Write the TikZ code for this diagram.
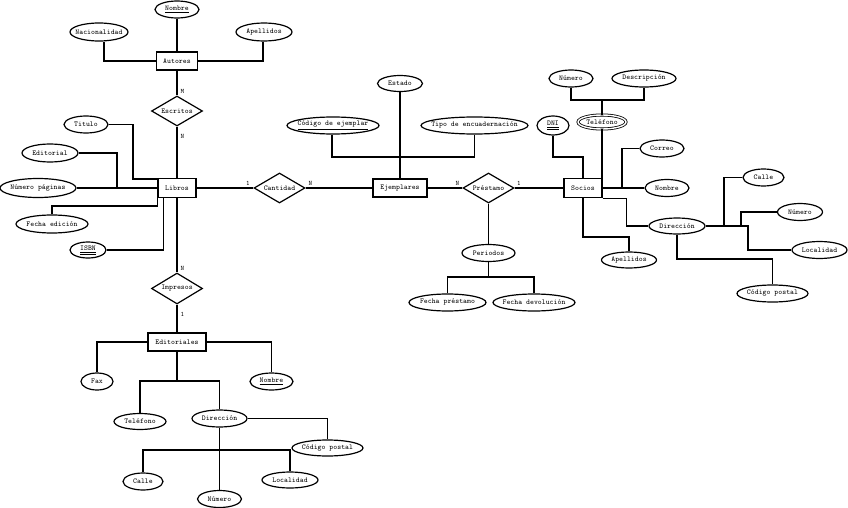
\documentclass[tikz,border=0pt]{standalone}
\usepackage{fontspec}
\usetikzlibrary{shapes.geometric}
\newcommand{\zt}[1]{\makebox[0pt]{#1}}
\begin{document}
\begin{tikzpicture}[x=1pt,y=-1pt,line width=1.2pt,
  every node/.style={font=\ttfamily\fontsize{7.4}{8}\selectfont},
  attr/.style 2 args={draw,ellipse,inner sep=0pt,minimum width=#1,minimum height=#2},
  ent/.style 2 args={draw,rectangle,inner sep=0pt,minimum width=#1,minimum height=#2},
  rel/.style 2 args={draw,diamond,inner sep=0pt,minimum width=#1,minimum height=#2},
  card/.style={font=\ttfamily\fontsize{6.8}{7}\selectfont,inner sep=0pt},
  multi/.style={double,double distance=1.4pt,line width=0.8pt}]
\useasboundingbox[fill=white] (0,0) rectangle (848,508);

% ---- Autores ----
\node[attr={44}{17}] (aNom) at (177,9.5) {\zt{\underline{Nombre}}};
\node[attr={58}{18}] (aNac) at (99,32) {\zt{Nacionalidad}};
\node[attr={56}{18}] (aApe) at (264,32) {\zt{Apellidos}};
\node[ent={41}{18}] (autores) at (177,61) {Autores};
\node[rel={51}{30}] (escritos) at (177,111) {\zt{Escritos}};

% ---- Libros ----
\node[ent={38}{19}] (libros) at (177,188) {Libros};
\node[attr={44}{17}] (lTit) at (86,124.5) {\zt{Titulo}};
\node[attr={56}{18}] (lEdi) at (50,153) {\zt{Editorial}};
\node[attr={76}{19}] (lPag) at (38,188) {\zt{Número páginas}};
\node[attr={72}{18}] (lFec) at (52,224) {\zt{Fecha edición}};
\node[attr={36}{16}] (lIsbn) at (88,250) {\zt{\underline{\underline{ISBN}}}};
\node[rel={51}{30}] (cantidad) at (279.5,188) {\zt{Cantidad}};
\node[rel={51}{31}] (impresos) at (177,288.5) {\zt{Impresos}};

% ---- Ejemplares ----
\node[ent={54}{18}] (ejemplares) at (400,188) {Ejemplares};
\node[attr={45}{16}] (eEst) at (400,83.5) {\zt{Estado}};
\node[attr={92}{17}] (eCod) at (333,125.5) {\zt{\underline{Código de ejemplar}}};
\node[attr={107}{17}] (eTip) at (474.5,125.5) {\zt{Tipo de encuadernación}};

% ---- Prestamo ----
\node[rel={51}{30}] (prestamo) at (488.5,188) {\zt{Préstamo}};
\node[attr={53}{17}] (pPer) at (488.5,253) {\zt{Periodos}};
\node[attr={77}{17}] (pFp) at (447.5,302.5) {\zt{Fecha préstamo}};
\node[attr={82}{17}] (pFd) at (534,302.5) {\zt{Fecha devolución}};

% ---- Socios ----
\node[ent={38}{19}] (socios) at (583,188) {Socios};
\node[attr={44}{17}] (sNum) at (571,78.5) {\zt{Número}};
\node[attr={64}{17}] (sDes) at (644,78.5) {\zt{Descripción}};
\node[attr={48}{14},multi] (sTel) at (602,122) {\zt{Teléfono}};
\node[attr={32}{19}] (sDni) at (553,125.5) {\zt{\underline{\underline{DNI}}}};
\node[attr={44}{17}] (sCor) at (662,148.5) {\zt{Correo}};
\node[attr={44}{17}] (sNom) at (667,188) {\zt{Nombre}};
\node[attr={56}{16}] (sDir) at (677,226) {\zt{Dirección}};
\node[attr={55}{16}] (sApe) at (629,260) {\zt{Apellidos}};
\node[attr={41}{17}] (sCal) at (763.5,177.5) {\zt{Calle}};
\node[attr={45}{17}] (sNu2) at (800,212) {\zt{Número}};
\node[attr={55}{17}] (sLoc) at (819.5,250) {\zt{Localidad}};
\node[attr={71}{17}] (sCp) at (772.5,293.5) {\zt{Código postal}};

% ---- Editoriales ----
\node[ent={58}{18}] (editoriales) at (177,342) {Editoriales};
\node[attr={32}{17}] (dFax) at (97,381.5) {\zt{Fax}};
\node[attr={43}{17}] (dNom) at (271.5,381.5) {\zt{\underline{Nombre}}};
\node[attr={52}{16}] (dTel) at (140,421.5) {\zt{Teléfono}};
\node[attr={55}{17}] (dDir) at (219.5,418.5) {\zt{Dirección}};
\node[attr={71}{16}] (dCp) at (327.5,448) {\zt{Código postal}};
\node[attr={40}{17}] (dCal) at (143,481.5) {\zt{Calle}};
\node[attr={44}{17}] (dNum) at (219.5,499) {\zt{Número}};
\node[attr={56}{16}] (dLoc) at (290,480) {\zt{Localidad}};

% ---- cardinalities ----
\node[card] (c1) at (182.5,91) {M};
\node[card] (c2) at (182.5,136) {N};
\node[card] (c3) at (182.5,268) {N};
\node[card] (c4) at (182.5,314) {1};
\node[card] (c5) at (248,183.5) {1};
\node[card] (c6) at (310.5,183.5) {N};
\node[card] (c7) at (457.5,183.5) {N};
\node[card] (c8) at (519,183.5) {1};

% ---- connectors: Autores ----
\draw (aNom) -- (autores);
\draw ([xshift=5pt]aNac.south) |- (autores.west);
\draw ([xshift=-1pt]aApe.south) |- (autores.east);
\draw (autores) -- (escritos);
\draw (escritos) -- (libros);

% ---- connectors: Libros ----
\draw (lTit.east) -| (133,179) -- (libros.west |- 133,179);
\draw (lEdi.east) -| (117,0 |- lPag.east);
\draw (lPag) -- (libros);
\draw (lFec.north) |- (libros.south west |- 0,206) -- (libros.south west);
\draw (lIsbn.east) -| ([xshift=6pt]libros.south west);
\draw (libros) -- (impresos);
\draw (impresos) -- (editoriales);
\draw (libros) -- (cantidad);
\draw (cantidad) -- (ejemplares);

% ---- connectors: Ejemplares ----
\draw (eEst) -- (ejemplares);
\draw ([xshift=-1pt]eCod.south) |- (eTip.south |- 0,157) -- (eTip.south);

% ---- connectors: Prestamo ----
\draw (ejemplares) -- (prestamo);
\draw (prestamo) -- (socios);
\draw (prestamo) -- (pPer);
\coordinate (pj) at (488.5,277);
\draw (pPer.south) -- (pj);
\draw (pFp.north) |- (pj) -| (pFd.north);

% ---- connectors: Socios ----
\coordinate (tj) at (602,100);
\draw (sNum.south) |- (tj) -| (sDes.south);
\draw (sTel.north) -- (tj);
\draw (sTel.south) -- (sTel.south |- socios.north);
\draw (sDni.south) |- (socios.north |- 0,157) -- (socios.north);
\draw (socios.east) -- (socios.east -| sNom.west);
\draw (sCor.west) -| (622,0 |- socios.east);
\draw (socios.south east) -- ++(24,0) |- (sDir.west);
\draw (socios.south) |- (sApe.north |- 0,237) -- (sApe.north);
\coordinate (sj) at (748,226);
\coordinate (sjc) at (724,226);
\coordinate (sjn) at (741,226);
\draw (sDir.east) -- (sj) |- (sLoc.west);
\draw (sjc) |- (sCal.west);
\draw (sjn) |- (sNu2.west);
\draw (sDir.south) |- (sCp.north |- 0,259) -- (sCp.north);

% ---- connectors: Editoriales ----
\draw (editoriales.west) -| (dFax.north);
\draw (editoriales.east) -| (dNom.north);
\coordinate (dj) at (177,381);
\draw (editoriales.south) -- (dj);
\draw (dTel.north) |- (dj) -| (dDir.north);
\draw (dDir.east) -| (dCp.north);
\draw (dDir.south) -- (dNum.north);
\draw (dCal.north) |- (dDir.south |- 0,450) -| (dLoc.north);
\end{tikzpicture}
\end{document}
